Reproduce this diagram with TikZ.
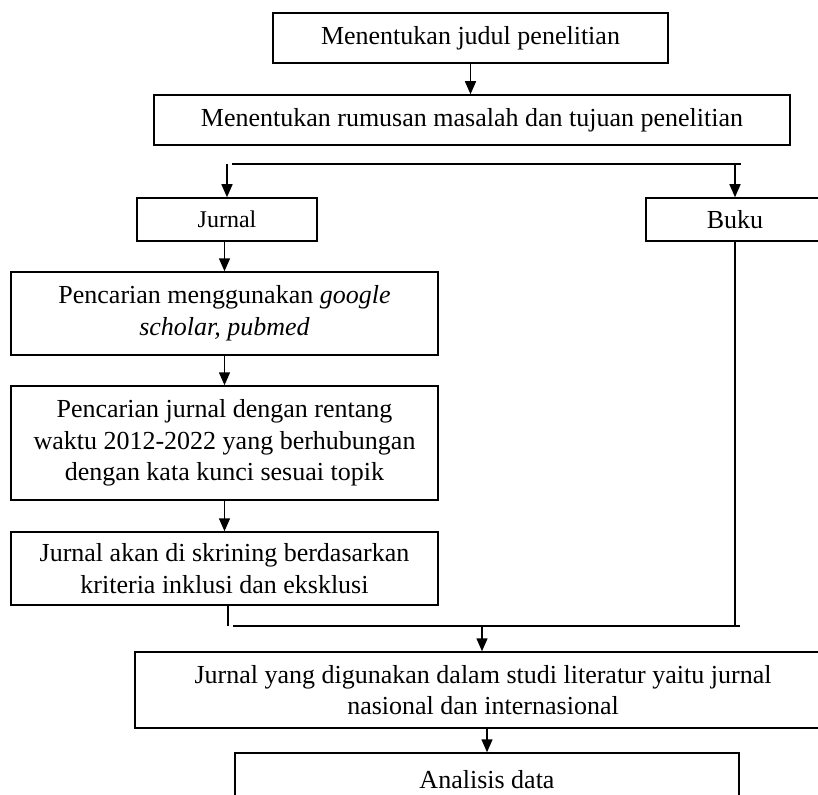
\documentclass[tikz,border=0pt]{standalone}
\usepackage{fontspec}
\setmainfont{Liberation Serif}
\usetikzlibrary{arrows.meta}
\begin{document}
\begin{tikzpicture}[x=1pt,y=-1pt,
  box/.style={draw=black, line width=1.5pt, inner sep=0pt, align=center,
    font=\fontsize{26}{31.7}\selectfont},
  arr/.style={line width=1.5pt, -{Triangle[length=13pt,width=11pt]}},
  ln/.style={line width=1.5pt}]
\useasboundingbox (0,0) rectangle (818,794);
\fill[white] (0,0) rectangle (818,794);
% boxes
\node[box, minimum width=395pt, minimum height=50pt] (b1) at (470.5,38) {Menentukan judul penelitian};
\node[box, minimum width=636pt, minimum height=50pt] (b2) at (472,120) {Menentukan rumusan masalah dan tujuan penelitian};
\node[box, minimum width=180pt, minimum height=43pt, font=\fontsize{24}{29}\selectfont] (jur) at (227,219.5) {Jurnal};
\node[box, minimum width=178pt, minimum height=43pt] (buku) at (735,219.5) {Buku};
\node[box, minimum width=427pt, minimum height=83pt] (b3) at (224.5,313.5) {Pencarian menggunakan \textit{google}\\\textit{scholar, pubmed}};
\node[box, minimum width=427pt, minimum height=114pt] (b4) at (224.5,443) {Pencarian jurnal dengan rentang\\waktu 2012-2022 yang berhubungan\\dengan kata kunci sesuai topik};
\node[box, minimum width=427pt, minimum height=73pt] (b5) at (224.5,568.5) {Jurnal akan di skrining berdasarkan\\kriteria inklusi dan eksklusi};
\node[box, minimum width=696pt, minimum height=76pt] (b6) at (483,690) {Jurnal yang digunakan dalam studi literatur yaitu jurnal\\nasional dan internasional};
\node[box, minimum width=504pt, minimum height=54pt] (b7) at (487,780) {Analisis data};
% coordinates
\coordinate (brL) at (232,164);
\coordinate (brR) at (741,164);
\coordinate (jtop) at (227,164);
\coordinate (btop) at (735,164);
\coordinate (m1) at (228,626);
\coordinate (mL) at (233,626);
\coordinate (mR) at (740,626);
\coordinate (mC) at (482,626);
% connectors
\draw[arr] (b1.south) -- (b1.south |- b2.north);
\draw[ln] (brL) -- (brR);
\draw[arr] (jtop) -- (jur.north);
\draw[arr] (btop) -- (buku.north);
\draw[arr] (b3.north |- jur.south) -- (b3.north);
\draw[arr] (b3.south) -- (b4.north);
\draw[arr] (b4.south) -- (b5.north);
\draw[ln] (m1 |- b5.south) -- (m1);
\draw[ln] (mL) -- (mR);
\draw[ln] (buku.south) -- (buku.south |- mR);
\draw[arr] (mC) -- (mC |- b6.north);
\draw[arr] (b7.north |- b6.south) -- (b7.north);
\end{tikzpicture}
\end{document}
